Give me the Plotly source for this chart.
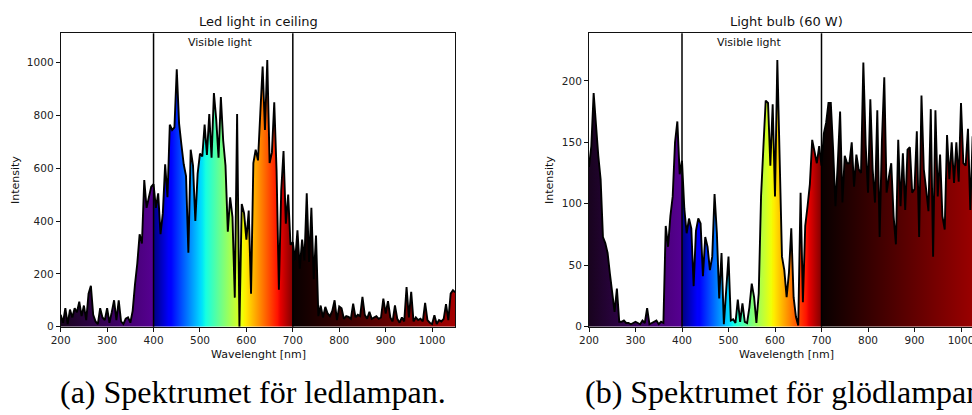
import plotly.graph_objects as go

# ---------------- data ----------------
wl_led = list(range(200, 1051, 5))
led_intensity = [
    45, 15, 70, 10, 65, 35, 70, 55, 95, 40,
    80, 25, 125, 155, 45, 20, 10, 70, 35, 25,
    70, 15, 55, 100, 25, 100, 20, 10, 30, 35,
    15, 60, 160, 240, 350, 315, 555, 450, 490, 530,
    540, 450, 505, 350, 430, 615, 490, 765, 745, 755,
    975, 770, 690, 615, 570, 280, 670, 610, 400, 580,
    655, 645, 765, 650, 805, 640, 885, 785, 640, 870,
    705, 610, 360, 490, 415, 110, 805, 0, 465, 430,
    330, 440, 125, 620, 670, 630, 810, 985, 745, 1010,
    620, 660, 850, 590, 140, 515, 665, 390, 500, 310,
    320, 250, 365, 220, 330, 250, 505, 245, 450, 180,
    345, 40, 80, 35, 75, 50, 40, 60, 100, 25,
    77, 70, 30, 40, 37, 30, 87, 35, 45, 40,
    113, 45, 30, 56, 30, 35, 40, 30, 35, 106,
    50, 97, 35, 20, 81, 30, 15, 35, 20, 150,
    35, 132, 20, 35, 25, 30, 20, 90, 25, 15,
    10, 43, 10, 25, 20, 30, 85, 25, 125, 138,
    130,
]

wl_bulb = list(range(200, 1026, 5))
bulb_intensity = [
    130, 147, 190, 160, 139, 120, 73, 68, 60, 43,
    28, 12, 31, 4, 4, 5, 3, 3, 2, 3,
    4, 3, 2, 5, 3, 15, 2, 3, 4, 5,
    2, 4, 3, 82, 65, 90, 106, 150, 167, 124,
    135, 96, 76, 88, 80, 33, 78, 88, 84, 41,
    73, 65, 46, 57, 108, 76, 23, 60, 2, 33,
    57, 5, 6, 3, 22, 4, 19, 4, 3, 16,
    35, 24, 3, 27, 106, 146, 184, 182, 131, 181,
    106, 217, 128, 57, 46, 24, 44, 80, 24, 8,
    1, 109, 20, 82, 98, 116, 152, 141, 133, 147,
    131, 157, 166, 182, 182, 144, 98, 133, 175, 101,
    139, 133, 133, 150, 114, 140, 128, 125, 215, 148,
    109, 185, 128, 101, 176, 73, 152, 203, 109, 122,
    133, 90, 67, 152, 98, 141, 95, 144, 146, 109,
    112, 159, 73, 188, 128, 112, 94, 177, 57, 176,
    106, 140, 90, 79, 156, 120, 150, 117, 150, 118,
    182, 133, 131, 161, 95, 155,
]

visible_bounds = [400, 700]
x_ticks = [200, 300, 400, 500, 600, 700, 800, 900, 1000]
titles = ["Led light in ceiling", "Light bulb (60 W)"]
x_labels = ["Wavelenght [nm]", "Wavelength [nm]"]
y_label = "Intensity"
visible_text = "Visible light"
captions = ["(a) Spektrumet för ledlampan.", "(b) Spektrumet för glödlampan."]

# ---------------- colour scale (wavelength -> colour) ----------------
WL_MIN, WL_MAX = 200, 1050
color_stops = [
    (200, "rgb(24,3,30)"),
    (399.9, "rgb(86,0,146)"),
    (400, "rgb(0,0,128)"),
    (433, "rgb(0,0,255)"),
    (437.5, "rgb(0,0,255)"),
    (502, "rgb(0,219,255)"),
    (505, "rgb(0,230,247)"),
    (512.5, "rgb(21,255,226)"),
    (592, "rgb(239,255,8)"),
    (595, "rgb(247,245,0)"),
    (598, "rgb(255,236,0)"),
    (667, "rgb(255,19,0)"),
    (673, "rgb(232,0,0)"),
    (699.9, "rgb(128,0,0)"),
    (700, "rgb(8,0,0)"),
    (1050, "rgb(165,0,0)"),
]
colorscale = [[(w - WL_MIN) / (WL_MAX - WL_MIN), c] for w, c in color_stops]

W, H = 972, 415
# pixel geometry
L1, R1 = 60.7, 455.3
L2 = 589.0
TOP, BOT = 33.3, 326.7
px_per_nm = 0.465
x2_end = 200 + (W - L2) / px_per_nm

ydom = [(H - BOT) / H, (H - TOP) / H]

fig = go.Figure()
for i, (wl, vals) in enumerate([(wl_led, led_intensity), (wl_bulb, bulb_intensity)]):
    fig.add_trace(go.Scatter(
        x=wl, y=vals, mode="lines",
        line=dict(color="black", width=1.9),
        fill="tozeroy",
        fillgradient=dict(type="horizontal", colorscale=colorscale,
                          start=WL_MIN, stop=WL_MAX),
        xaxis="x" if i == 0 else "x2",
        yaxis="y" if i == 0 else "y2",
        showlegend=False, hoverinfo="skip",
    ))

tickfont = dict(family="DejaVu Sans", size=10.5, color="#222")
axis_common = dict(showline=True, linecolor="#111", linewidth=1, ticks="outside",
                   ticklen=4, tickwidth=1, tickcolor="#111", showgrid=False,
                   zeroline=False, tickfont=tickfont, automargin=False,
                   ticklabeloverflow="allow")

fig.update_layout(
    width=W, height=H, margin=dict(l=0, r=0, t=0, b=0, autoexpand=False),
    paper_bgcolor="white", plot_bgcolor="white",
    xaxis=dict(domain=[L1 / W, R1 / W], range=[WL_MIN, WL_MAX], tickvals=x_ticks,
               mirror=True, anchor="y", **axis_common),
    yaxis=dict(domain=ydom, range=[0, 1.1 * max(led_intensity)], dtick=200,
               mirror=True, anchor="x", **axis_common),
    xaxis2=dict(domain=[L2 / W, 1.0], range=[WL_MIN, x2_end], tickvals=x_ticks,
                mirror=True, anchor="y2", **axis_common),
    yaxis2=dict(domain=ydom, range=[0, 1.1 * max(bulb_intensity)], dtick=50,
                mirror=False, anchor="x2", **axis_common),
)

shapes = []
for xr, yr in [("x", "y domain"), ("x2", "y2 domain")]:
    for v in visible_bounds:
        shapes.append(dict(type="line", xref=xr, yref=yr, x0=v, x1=v, y0=0, y1=1,
                           line=dict(color="black", width=1.5)))
fig.update_layout(shapes=shapes)

sans = "DejaVu Sans"
ann = []
centers = [(L1 + R1) / 2, (L2 + L2 + 850 * px_per_nm) / 2]
ylab_x = [16, 550]
for i in range(2):
    xr = "x" if i == 0 else "x2"
    yr = "y domain" if i == 0 else "y2 domain"
    ann.append(dict(text=titles[i], x=centers[i] / W, y=(H - 21) / H, xref="paper", yref="paper",
                    xanchor="center", yanchor="middle", showarrow=False,
                    font=dict(family=sans, size=13, color="#111")))
    ann.append(dict(text=x_labels[i], x=centers[i] / W, y=(H - 354) / H, xref="paper", yref="paper",
                    xanchor="center", yanchor="middle", showarrow=False,
                    font=dict(family=sans, size=11, color="#111")))
    ann.append(dict(text=y_label, x=ylab_x[i] / W, y=(ydom[0] + ydom[1]) / 2, xref="paper", yref="paper",
                    xanchor="center", yanchor="middle", showarrow=False, textangle=-90,
                    font=dict(family=sans, size=11, color="#111")))
    ann.append(dict(text=visible_text, x=470, y=0.97, xref=xr, yref=yr,
                    xanchor="left", yanchor="middle", showarrow=False,
                    font=dict(family=sans, size=11, color="#111")))

serif = "Liberation Serif"
ann.append(dict(text=captions[0], x=252.5 / W, y=(H - 392) / H, xref="paper", yref="paper",
                xanchor="center", yanchor="middle", showarrow=False,
                font=dict(family=serif, size=32, color="black")))
ann.append(dict(text=captions[1], x=583 / W, y=(H - 392) / H, xref="paper", yref="paper",
                xanchor="left", yanchor="middle", showarrow=False,
                font=dict(family=serif, size=32, color="black")))
fig.update_layout(annotations=ann)

fig.write_html("out.html")
